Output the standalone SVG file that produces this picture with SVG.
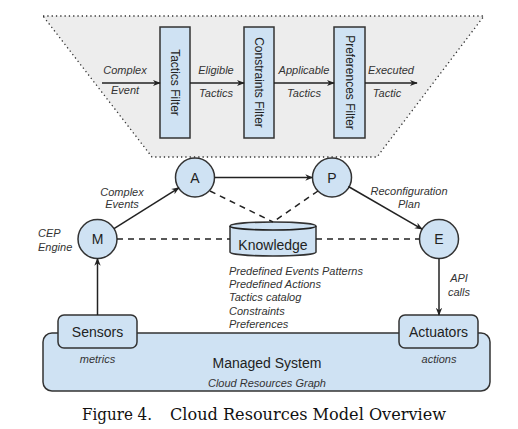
<svg xmlns="http://www.w3.org/2000/svg" width="518" height="429" viewBox="0 0 518 429">
<style>
.lbl{font-family:"Liberation Sans",Arial,sans-serif;font-style:italic;font-size:11px;fill:#333}
.nm{font-family:"Liberation Sans",Arial,sans-serif;fill:#222;text-anchor:middle}
.box{fill:#cfe2f3;stroke:#333;stroke-width:1.5}
.ln{stroke:#222;stroke-width:1.5;fill:none}
.dash{stroke:#222;stroke-width:1.5;fill:none;stroke-dasharray:6,5}
</style>
<defs>
<marker id="ah" viewBox="0 0 10 10" refX="9" refY="5" markerWidth="8" markerHeight="8" markerUnits="userSpaceOnUse" orient="auto">
<path d="M0,1 L10,5 L0,9 L3,5 z" fill="#222"/>
</marker>
</defs>
<rect width="518" height="429" fill="#fff"/>

<g id="plan-detail">
<polygon points="43,16 484,16 377,157 152,157" fill="#ededed" stroke="#333" stroke-width="1.3" stroke-dasharray="1.3,3"/>
</g>

<g id="tactics-filter">
<rect class="box" x="160" y="27" width="30" height="111"/>
<text class="nm" font-size="12" transform="translate(175,82.5) rotate(90)" dominant-baseline="central">Tactics Filter</text>
</g>
<g id="constraints-filter">
<rect class="box" x="244" y="27" width="30" height="111"/>
<text class="nm" font-size="12" transform="translate(259,82.5) rotate(90)" dominant-baseline="central">Constraints Filter</text>
</g>
<g id="preferences-filter">
<rect class="box" x="334" y="27" width="31" height="111"/>
<text class="nm" font-size="12" transform="translate(349.5,82.5) rotate(90)" dominant-baseline="central">Preferences Filter</text>
</g>

<g id="M">
<circle class="box" cx="97.5" cy="239" r="19.5"/>
<text class="nm" x="97.5" y="244" font-size="14">M</text>
</g>
<g id="A">
<circle class="box" cx="195" cy="177.5" r="19.5"/>
<text class="nm" x="195" y="182.5" font-size="14">A</text>
</g>
<g id="P">
<circle class="box" cx="332" cy="177.5" r="19.5"/>
<text class="nm" x="332" y="182.5" font-size="14">P</text>
</g>
<g id="E">
<circle class="box" cx="439" cy="239" r="19.5"/>
<text class="nm" x="439" y="244" font-size="14">E</text>
</g>

<g id="knowledge">
<path class="box" d="M230,226 A43,4 0 0 1 316,226 L316,252 A43,4 0 0 1 230,252 Z"/>
<path class="ln" d="M230,226 A43,4 0 0 0 316,226" stroke-width="1.3"/>
<text class="nm" x="273" y="250" font-size="14">Knowledge</text>
</g>

<g id="managed-system">
<rect class="box" x="43" y="333" width="447" height="58" rx="9"/>
<text class="nm" x="267" y="368" font-size="14">Managed System</text>
<text class="lbl" x="267" y="387" text-anchor="middle">Cloud Resources Graph</text>
</g>
<g id="sensors">
<rect class="box" x="58" y="315" width="79" height="33" rx="6"/>
<text class="nm" x="97.5" y="337" font-size="14">Sensors</text>
</g>
<g id="actuators">
<rect class="box" x="399" y="315" width="79" height="33" rx="6"/>
<text class="nm" x="438.5" y="337" font-size="14">Actuators</text>
</g>

<g id="connectors">
<line class="ln" x1="102" y1="83" x2="160" y2="83" marker-end="url(#ah)"/>
<line class="ln" x1="190" y1="83" x2="244" y2="83" marker-end="url(#ah)"/>
<line class="ln" x1="274" y1="83" x2="334" y2="83" marker-end="url(#ah)"/>
<line class="ln" x1="365" y1="83" x2="417" y2="83" marker-end="url(#ah)"/>
<line class="ln" x1="114" y1="228.6" x2="178.9" y2="187.8" marker-end="url(#ah)"/>
<line class="ln" x1="214.5" y1="177.5" x2="312.5" y2="177.5" marker-end="url(#ah)"/>
<line class="ln" x1="348.4" y1="186.5" x2="422.1" y2="229.2" marker-end="url(#ah)"/>
<line class="ln" x1="439" y1="258.5" x2="439" y2="315" marker-end="url(#ah)"/>
<line class="ln" x1="97.5" y1="315" x2="97.5" y2="258.5" marker-end="url(#ah)"/>
<line class="dash" x1="117" y1="239" x2="230" y2="239"/>
<line class="dash" x1="316" y1="239" x2="419.5" y2="239"/>
<line class="dash" x1="210" y1="191" x2="273" y2="222"/>
<line class="dash" x1="318" y1="191" x2="273" y2="222"/>
</g>

<g id="labels">
<text class="lbl" x="125" y="74" text-anchor="middle">Complex</text>
<text class="lbl" x="125" y="94" text-anchor="middle">Event</text>
<text class="lbl" x="216" y="74" text-anchor="middle">Eligible</text>
<text class="lbl" x="216" y="97" text-anchor="middle">Tactics</text>
<text class="lbl" x="304" y="74" text-anchor="middle">Applicable</text>
<text class="lbl" x="304" y="97" text-anchor="middle">Tactics</text>
<text class="lbl" x="391" y="74" text-anchor="middle">Executed</text>
<text class="lbl" x="387" y="97" text-anchor="middle">Tactic</text>
<text class="lbl" x="122" y="196" text-anchor="middle">Complex</text>
<text class="lbl" x="122" y="208" text-anchor="middle">Events</text>
<text class="lbl" x="38" y="237">CEP</text>
<text class="lbl" x="38" y="251">Engine</text>
<text class="lbl" x="409" y="195" text-anchor="middle">Reconfiguration</text>
<text class="lbl" x="409" y="208" text-anchor="middle">Plan</text>
<text class="lbl" x="459" y="282" text-anchor="middle">API</text>
<text class="lbl" x="459" y="296" text-anchor="middle">calls</text>
<text class="lbl" x="229" y="275">Predefined Events Patterns</text>
<text class="lbl" x="229" y="288">Predefined Actions</text>
<text class="lbl" x="229" y="301">Tactics catalog</text>
<text class="lbl" x="229" y="315">Constraints</text>
<text class="lbl" x="229" y="328">Preferences</text>
<text class="lbl" x="97.5" y="363" text-anchor="middle">metrics</text>
<text class="lbl" x="439" y="363" text-anchor="middle">actions</text>
</g>

<g id="caption">
<text x="82" y="420" font-family="'DejaVu Serif','Liberation Serif',serif" font-size="16" fill="#111" textLength="70" lengthAdjust="spacingAndGlyphs">Figure 4.</text>
<text x="170" y="420" font-family="'DejaVu Serif','Liberation Serif',serif" font-size="16" fill="#111" textLength="276" lengthAdjust="spacingAndGlyphs">Cloud Resources Model Overview</text>
</g>
</svg>
